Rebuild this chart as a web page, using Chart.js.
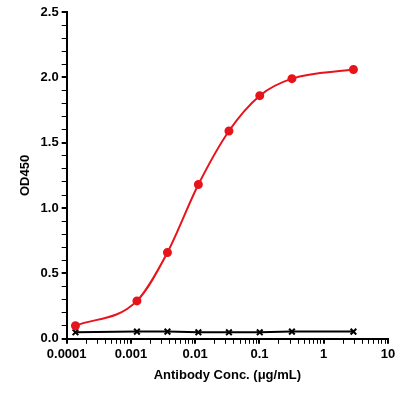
<!DOCTYPE html>
<html>
<head>
<script src="https://cdn.jsdelivr.net/npm/chart.js@4"></script>
<style>
  html, body { margin: 0; padding: 0; background: #fff; }
  #wrap { width: 400px; height: 403px; }
</style>
</head>
<body>
<div id="wrap"><canvas id="odChart"></canvas></div>
<script>
// Antibody concentration (ug/mL) and OD450 readings
const conc = [0.000137, 0.00124, 0.0037, 0.0112, 0.0335, 0.101, 0.32, 2.9];
const odSample = [0.10, 0.29, 0.66, 1.18, 1.59, 1.86, 1.99, 2.06];
const odControl = [0.05, 0.055, 0.055, 0.05, 0.05, 0.05, 0.055, 0.055];
const yTicks = [0, 0.5, 1.0, 1.5, 2.0, 2.5];

const ctx = document.getElementById('odChart').getContext('2d');
const font = { family: 'Liberation Sans, Arial, sans-serif', size: 13, weight: 'bold' };

new Chart(ctx, {
    type: 'scatter',
    data: {
        datasets: [
            {
                data: conc.map((x, i) => ({ x, y: odSample[i] })),
                showLine: true,
                cubicInterpolationMode: 'monotone',
                borderColor: '#e8141b',
                backgroundColor: '#e8141b',
                borderWidth: 2,
                pointRadius: 3.5
            },
            {
                data: conc.map((x, i) => ({ x, y: odControl[i] })),
                showLine: true,
                borderColor: '#000',
                backgroundColor: '#000',
                borderWidth: 2,
                pointStyle: 'crossRot',
                pointRadius: 4,
                pointBorderWidth: 2
            }
        ]
    },
    options: {
        responsive: true,
        maintainAspectRatio: false,
        animation: false,
        layout: { padding: { top: 12, right: 12, left: 14, bottom: 16 } },
        scales: {
            x: {
                type: 'logarithmic',
                min: 0.0001,
                max: 10,
                afterBuildTicks: axis => {
                    const t = [];
                    for (let e = -4; e <= 1; e++) {
                        for (let m = 1; m <= 9; m++) {
                            const v = m * Math.pow(10, e);
                            if (v <= 10.0001) t.push({ value: v, major: m === 1 });
                        }
                    }
                    axis.ticks = t;
                },
                ticks: {
                    color: '#000',
                    font,
                    autoSkip: false,
                    maxRotation: 0,
                    callback: v => {
                        const l = Math.log10(v);
                        if (Math.abs(l - Math.round(l)) > 1e-6) return '';
                        return String(Number(v.toPrecision(1)));
                    }
                },
                grid: {
                    drawOnChartArea: false,
                    color: '#000',
                    tickColor: '#000',
                    tickLength: 5,
                    lineWidth: c => (c.tick && c.tick.major ? 2 : 1)
                },
                border: { color: '#000', width: 2 },
                title: { display: true, text: 'Antibody Conc. (μg/mL)', color: '#000', font, padding: { top: 2 } }
            },
            y: {
                min: 0,
                max: 2.5,
                afterBuildTicks: axis => {
                    const t = [];
                    for (let i = 0; i <= 25; i++) t.push({ value: i / 10 });
                    axis.ticks = t;
                },
                ticks: {
                    color: '#000',
                    font,
                    autoSkip: false,
                    callback: v => (yTicks.some(y => Math.abs(y - v) < 1e-6) ? v.toFixed(1) : '')
                },
                grid: {
                    drawOnChartArea: false,
                    color: '#000',
                    tickColor: '#000',
                    tickLength: 5,
                    lineWidth: c => (c.tick && Math.abs(c.tick.value * 2 - Math.round(c.tick.value * 2)) < 1e-6 ? 2 : 1)
                },
                border: { color: '#000', width: 2 },
                title: { display: true, text: 'OD450', color: '#000', font }
            }
        },
        plugins: {
            legend: { display: false },
            tooltip: { enabled: false }
        }
    }
});
</script>
</body>
</html>
